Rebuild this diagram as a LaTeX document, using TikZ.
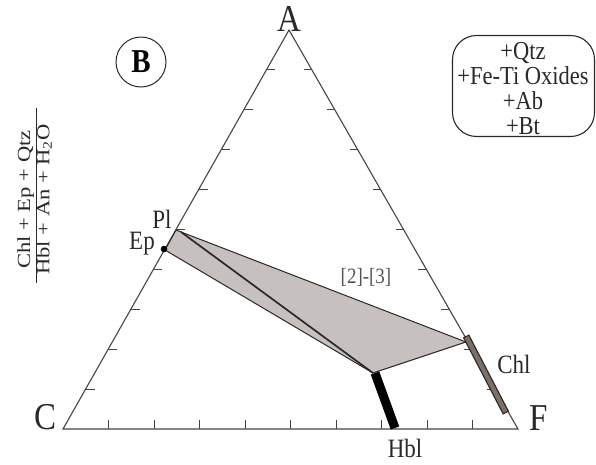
\documentclass[tikz,border=0pt]{standalone}
\usepackage{fontspec}
\setmainfont{Liberation Serif}
\usetikzlibrary{calc}
\definecolor{ink}{HTML}{2B2826}
\definecolor{edgec}{HTML}{4A4440}
\definecolor{shade}{HTML}{C6C1BE}
\definecolor{chlbar}{HTML}{7A7068}
\newcommand\vst[1]{\scalebox{1}[1.15]{#1}}
\newcommand\fs[1]{\fontsize{#1}{#1}\selectfont}
\begin{document}
\begin{tikzpicture}[x=1pt,y=-1pt,
  frame/.style={draw=edgec, line width=1.1pt, line join=miter},
  tickmark/.style={draw=edgec, line width=0.9pt},
  lbl/.style={inner sep=0pt, text=ink, anchor=base},
]
\useasboundingbox (0,0) rectangle (596,464);
\coordinate (A) at (289,30);
\coordinate (C) at (63,429);
\coordinate (F) at (518,429);
\foreach \k in {1,...,9}{
  \draw[tickmark] ($(C)!\k/10!(F)$) -- ++(0,-9);
  \draw[tickmark] ($(C)!\k/10!(A)$) -- ++(9,0);
  \draw[tickmark] ($(F)!\k/10!(A)$) -- ++(-8,0);
}
\draw[frame] (A) -- (C) -- (F) -- cycle;
% field
\coordinate (pl) at (176,230);
\coordinate (plin) at (181,232);
\coordinate (chl) at (466,342);
\coordinate (hbl) at (373,373);
\coordinate (ep) at (165,250);
\filldraw[fill=shade, draw=ink, line width=1pt, line join=round] (pl) -- (chl) -- (hbl) -- (ep) -- cycle;
\draw[ink, line width=1.7pt] (plin) -- (hbl);
% bars
\coordinate (hbltop) at (375,373);
\coordinate (hblbot) at (395,428);
\draw[black, line width=9pt] (hbltop) -- (hblbot);
\coordinate (chltop) at (466,336);
\coordinate (chlbot) at (506,413);
\draw[ink, line width=7pt] (chltop) -- (chlbot);
\draw[chlbar, line width=4.4pt, shorten <=1.2pt, shorten >=1.2pt] (chltop) -- (chlbot);
\fill[black] (164,249) circle (3.3);
% labels
\node[lbl, font=\fs{33}] (la) at (289,31) {\vst{A}};
\node[lbl, font=\fs{33}] (lc) at (46,429) {\vst{C}};
\node[lbl, font=\fs{33}] (lf) at (539,430) {\vst{F}};
\node[lbl, font=\fs{23}] (lhbl) at (405,457) {\vst{Hbl}};
\node[lbl, font=\fs{23}] (lchl) at (514,373) {\vst{Chl}};
\node[lbl, font=\fs{23}] (lpl) at (162,228) {\vst{Pl}};
\node[lbl, font=\fs{23}] (lep) at (142,249) {\vst{Ep}};
\node[lbl, font=\fs{19}, text=ink!80] (lreg) at (366,283) {\vst{[2]-[3]}};
\node[draw=ink, circle, line width=1pt, minimum size=50pt, inner sep=0pt,
      font=\fs{29}\bfseries, text=black] (bb) at (141,62) {\vst{B}};
% assemblage box
\node[draw=ink, rounded corners=24pt, line width=1.1pt, minimum width=142pt,
      minimum height=101pt, inner sep=0pt] (kbox) at (523.5,86) {};
\node[align=center, font=\fontsize{22.5}{25}\selectfont, text=ink, inner sep=0pt,
      anchor=north] (ktxt) at (523,42)
  {\vst{+Qtz}\\ \vst{+Fe-Ti Oxides}\\ \vst{+Ab}\\ \vst{+Bt}};
% ratio
\setlength{\arrayrulewidth}{0.8pt}
\node[rotate=90, inner sep=0pt, text=ink] (ratio) at (36,195)
  {\fs{18.5}\begin{tabular}{@{}c@{}}
   \makebox[175pt]{\scalebox{1.22}[1]{Chl + Ep + Qtz}\hspace{9pt}}\\ \hline
   \makebox[175pt]{\scalebox{1.22}[1]{Hbl + An + H\textsubscript{2}O}\hspace{9pt}}
   \end{tabular}};
\end{tikzpicture}
\end{document}
